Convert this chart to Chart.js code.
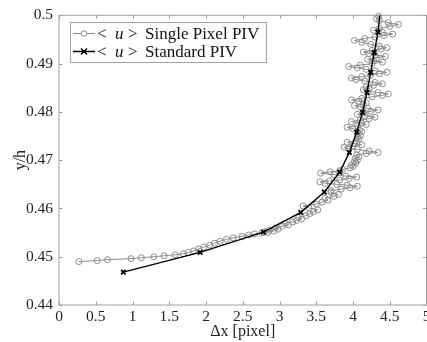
<!DOCTYPE html>
<html lang="en">
<head>
  <meta charset="UTF-8">
  <title>Single Pixel PIV vs Standard PIV</title>
  <style>
    html, body {
      margin: 0;
      padding: 0;
      background: #fff;
      overflow: hidden;
    }
    #wrap {
      width: 440px;
      height: 342px;
    }
  </style>
  <script src="https://cdn.jsdelivr.net/npm/chart.js"></script>
</head>
<body>
  <div id="wrap">
    <canvas id="profileChart" width="440" height="342"></canvas>
  </div>
  <script>
    // <u> Standard PIV
    const stdX = [0.875, 1.92, 2.78, 3.29, 3.61, 3.82, 3.95, 4.05, 4.13, 4.19, 4.24, 4.29, 4.34, 4.37];
    const stdY = [0.4468, 0.4509, 0.4551, 0.4592, 0.4634, 0.4675, 0.4716, 0.4758, 0.4799, 0.4840, 0.4882, 0.4923, 0.4965, 0.5006];

    // <u> Single Pixel PIV
    const spX = [
      0.27, 0.52, 0.66, 0.98, 1.12, 1.29, 1.43, 1.58, 1.69, 1.76, 1.83, 1.90, 1.97, 2.05, 2.12, 2.19, 2.28, 2.37, 2.49, 2.58,
      2.66, 2.76, 2.84, 2.80, 2.92, 2.86, 2.98, 2.95, 3.04, 3.12, 3.08, 3.18, 3.23, 3.30, 3.26, 3.36, 3.41,
      3.46, 3.52, 3.40, 3.32, 3.50, 3.58, 3.66, 3.62, 3.74, 3.80, 3.70,
      3.70, 3.84, 3.96, 4.06, 3.92, 3.78, 3.62, 3.55, 3.68, 3.82, 3.95, 4.05, 3.90, 3.74, 3.56, 3.69, 3.82, 3.86,
      3.96, 4.00, 3.98, 4.04, 4.02, 4.06, 4.03, 4.08, 4.05, 4.18, 4.34, 4.22, 4.06, 3.94,
      3.88, 4.00, 4.12, 4.02, 3.92, 4.04, 4.08, 4.06, 4.10, 4.07, 4.12, 4.09, 4.00, 3.92, 4.06, 4.18, 4.12,
      3.98, 4.10, 4.22, 4.30, 4.16, 4.06, 4.14, 4.24, 4.34, 4.20, 4.10, 4.02, 4.14, 4.18, 4.08, 3.98, 4.12, 4.26, 4.40, 4.48,
      4.34, 4.20, 4.14, 4.22, 4.18, 4.28, 4.40, 4.30, 4.16, 4.04, 3.98, 4.12, 4.24, 4.36, 4.46, 4.30, 4.18,
      4.06, 3.94, 4.10, 4.26, 4.40, 4.28, 4.20, 4.32, 4.44, 4.30, 4.22, 4.14, 4.26, 4.38, 4.46, 4.36, 4.24, 4.12, 4.02, 4.16,
      4.30, 4.42, 4.54, 4.40, 4.28, 4.36, 4.50, 4.62, 4.48, 4.36, 4.32, 4.35
    ];
    const spY = [
      0.4490, 0.4492, 0.4494, 0.4496, 0.4498, 0.4500, 0.4502, 0.4504, 0.4506, 0.4509, 0.4512, 0.4516, 0.4520, 0.4524, 0.4528, 0.4532, 0.4536, 0.4539, 0.4542, 0.4545,
      0.4547, 0.4549, 0.4550, 0.4552, 0.4553, 0.4555, 0.4557, 0.4560, 0.4563, 0.4566, 0.4569, 0.4572, 0.4575, 0.4578, 0.4581, 0.4585, 0.4589,
      0.4593, 0.4597, 0.4601, 0.4605, 0.4609, 0.4613, 0.4617, 0.4621, 0.4625, 0.4629, 0.4633,
      0.4637, 0.4640, 0.4643, 0.4646, 0.4648, 0.4650, 0.4652, 0.4655, 0.4657, 0.4659, 0.4662, 0.4665, 0.4667, 0.4670, 0.4673, 0.4676, 0.4678, 0.4681,
      0.4684, 0.4687, 0.4690, 0.4694, 0.4697, 0.4700, 0.4704, 0.4707, 0.4711, 0.4714, 0.4716, 0.4719, 0.4722, 0.4724,
      0.4727, 0.4729, 0.4732, 0.4734, 0.4737, 0.4740, 0.4744, 0.4747, 0.4751, 0.4755, 0.4759, 0.4762, 0.4765, 0.4768, 0.4771, 0.4774, 0.4777,
      0.4780, 0.4783, 0.4786, 0.4789, 0.4792, 0.4795, 0.4798, 0.4801, 0.4804, 0.4807, 0.4810, 0.4813, 0.4816, 0.4819, 0.4822, 0.4825, 0.4828, 0.4831, 0.4834, 0.4837,
      0.4840, 0.4843, 0.4846, 0.4849, 0.4852, 0.4855, 0.4858, 0.4861, 0.4864, 0.4867, 0.4870, 0.4873, 0.4876, 0.4879, 0.4882, 0.4885, 0.4888,
      0.4891, 0.4894, 0.4897, 0.4900, 0.4903, 0.4906, 0.4909, 0.4912, 0.4915, 0.4918, 0.4921, 0.4924, 0.4927, 0.4930, 0.4933, 0.4936, 0.4940, 0.4944, 0.4948, 0.4952,
      0.4955, 0.4958, 0.4961, 0.4965, 0.4969, 0.4973, 0.4977, 0.4981, 0.4985, 0.4989, 0.4993, 0.4998
    ];

    const xTicks = [0, 0.5, 1, 1.5, 2, 2.5, 3, 3.5, 4, 4.5, 5];
    const yTicks = [0.44, 0.45, 0.46, 0.47, 0.48, 0.49, 0.5];
    const seriesNames = ['Single Pixel PIV', 'Standard PIV'];

    const SERIF = "'Liberation Serif', 'DejaVu Serif', serif";
    const GREY = '#8c8c8c';
    const FRAME = '#a0a0a0';

    // pgfplots style box with inward ticks
    const frame = {
      id: 'frame',
      beforeDatasetsDraw(chart) {
        const { ctx, chartArea: a, scales: { x, y } } = chart;
        ctx.save();
        ctx.strokeStyle = FRAME;
        ctx.lineWidth = 1;
        ctx.beginPath();
        xTicks.forEach(v => {
          const px = Math.round(x.getPixelForValue(v)) + 0.5;
          ctx.moveTo(px, a.bottom); ctx.lineTo(px, a.bottom - 3.5);
          ctx.moveTo(px, a.top); ctx.lineTo(px, a.top + 3.5);
        });
        yTicks.forEach(v => {
          const py = Math.round(y.getPixelForValue(v)) + 0.5;
          ctx.moveTo(a.left, py); ctx.lineTo(a.left + 3.5, py);
          ctx.moveTo(a.right, py); ctx.lineTo(a.right - 3.5, py);
        });
        ctx.stroke();
        ctx.strokeRect(a.left, a.top, a.right - a.left, a.bottom - a.top);
        ctx.restore();
      }
    };

    // legend box in the upper left corner
    const legendBox = {
      id: 'legendBox',
      afterDraw(chart) {
        const ctx = chart.ctx;
        ctx.save();
        ctx.fillStyle = '#fff';
        ctx.strokeStyle = FRAME;
        ctx.lineWidth = 1;
        ctx.fillRect(70.5, 22.5, 196, 40);
        ctx.strokeRect(70.5, 22.5, 196, 40);

        const rows = [33.5, 51.5];
        rows.forEach((ry, i) => {
          ctx.beginPath();
          ctx.moveTo(73, ry); ctx.lineTo(95, ry);
          if (i === 0) {
            ctx.strokeStyle = GREY; ctx.lineWidth = 1; ctx.stroke();
            ctx.beginPath();
            ctx.arc(84, ry, 2.8, 0, Math.PI * 2);
            ctx.fillStyle = '#fff'; ctx.fill(); ctx.stroke();
          } else {
            ctx.strokeStyle = '#000'; ctx.lineWidth = 1.5; ctx.stroke();
            ctx.beginPath();
            ctx.moveTo(81, ry - 3); ctx.lineTo(87, ry + 3);
            ctx.moveTo(81, ry + 3); ctx.lineTo(87, ry - 3);
            ctx.stroke();
          }
          ctx.fillStyle = '#111';
          ctx.textBaseline = 'middle';
          ctx.font = '17px ' + SERIF;
          ctx.fillText('<', 97, ry + 1);
          ctx.font = 'italic 17px ' + SERIF;
          ctx.fillText('u', 115, ry + 1);
          ctx.font = '17px ' + SERIF;
          ctx.fillText('>', 128, ry + 1);
          ctx.fillText(seriesNames[i], 145, ry + 1);
        });
        ctx.restore();
      }
    };

    function drawChart() {
      const ctx = document.getElementById('profileChart').getContext('2d');
      new Chart(ctx, {
        type: 'scatter',
        data: {
          datasets: [
            {
              label: '<u> Standard PIV',
              data: stdX.map((v, i) => ({ x: v, y: stdY[i] })),
              showLine: true,
              borderColor: '#000',
              borderWidth: 1.4,
              pointStyle: 'crossRot',
              pointRadius: 3.2,
              pointBorderWidth: 1.8,
              pointBorderColor: '#000',
              order: 0
            },
            {
              label: '<u> Single Pixel PIV',
              data: spX.map((v, i) => ({ x: v, y: spY[i] })),
              showLine: true,
              borderColor: GREY,
              borderWidth: 1,
              pointStyle: 'circle',
              pointRadius: 3,
              pointBorderWidth: 1,
              pointBorderColor: GREY,
              pointBackgroundColor: 'rgba(255,255,255,0)',
              clip: 4,
              order: 1
            }
          ]
        },
        options: {
          responsive: false,
          animation: false,
          layout: { padding: { top: 15, right: 13.5, bottom: 0, left: 0 } },
          plugins: {
            legend: { display: false },
            tooltip: { enabled: false }
          },
          scales: {
            x: {
              type: 'linear',
              min: 0,
              max: 5,
              afterFit: s => { s.height = 37; },
              afterBuildTicks: s => { s.ticks = xTicks.map(v => ({ value: v })); },
              grid: { display: false, drawTicks: false },
              border: { display: false },
              ticks: {
                padding: 3,
                color: '#222',
                font: { family: SERIF, size: 15.5 },
                callback: v => String(v)
              },
              title: {
                display: true,
                text: 'Δx [pixel]',
                color: '#222',
                font: { family: SERIF, size: 16 },
                padding: { top: 0, bottom: 1 }
              }
            },
            y: {
              type: 'linear',
              min: 0.44,
              max: 0.5,
              afterFit: s => { s.width = 59; },
              afterBuildTicks: s => { s.ticks = yTicks.map(v => ({ value: v })); },
              grid: { display: false, drawTicks: false },
              border: { display: false },
              ticks: {
                padding: 6,
                color: '#222',
                font: { family: SERIF, size: 15.5 },
                callback: v => String(Number(v.toFixed(2)))
              },
              title: {
                display: true,
                text: 'y/h',
                color: '#222',
                font: { family: SERIF, size: 16 },
                padding: { top: 11, bottom: 0 }
              }
            }
          }
        },
        plugins: [frame, legendBox]
      });
    }

    Promise.all([
      document.fonts.load("15px 'Liberation Serif'"),
      document.fonts.load("italic 15px 'Liberation Serif'")
    ]).then(drawChart, drawChart);
  </script>
</body>
</html>
